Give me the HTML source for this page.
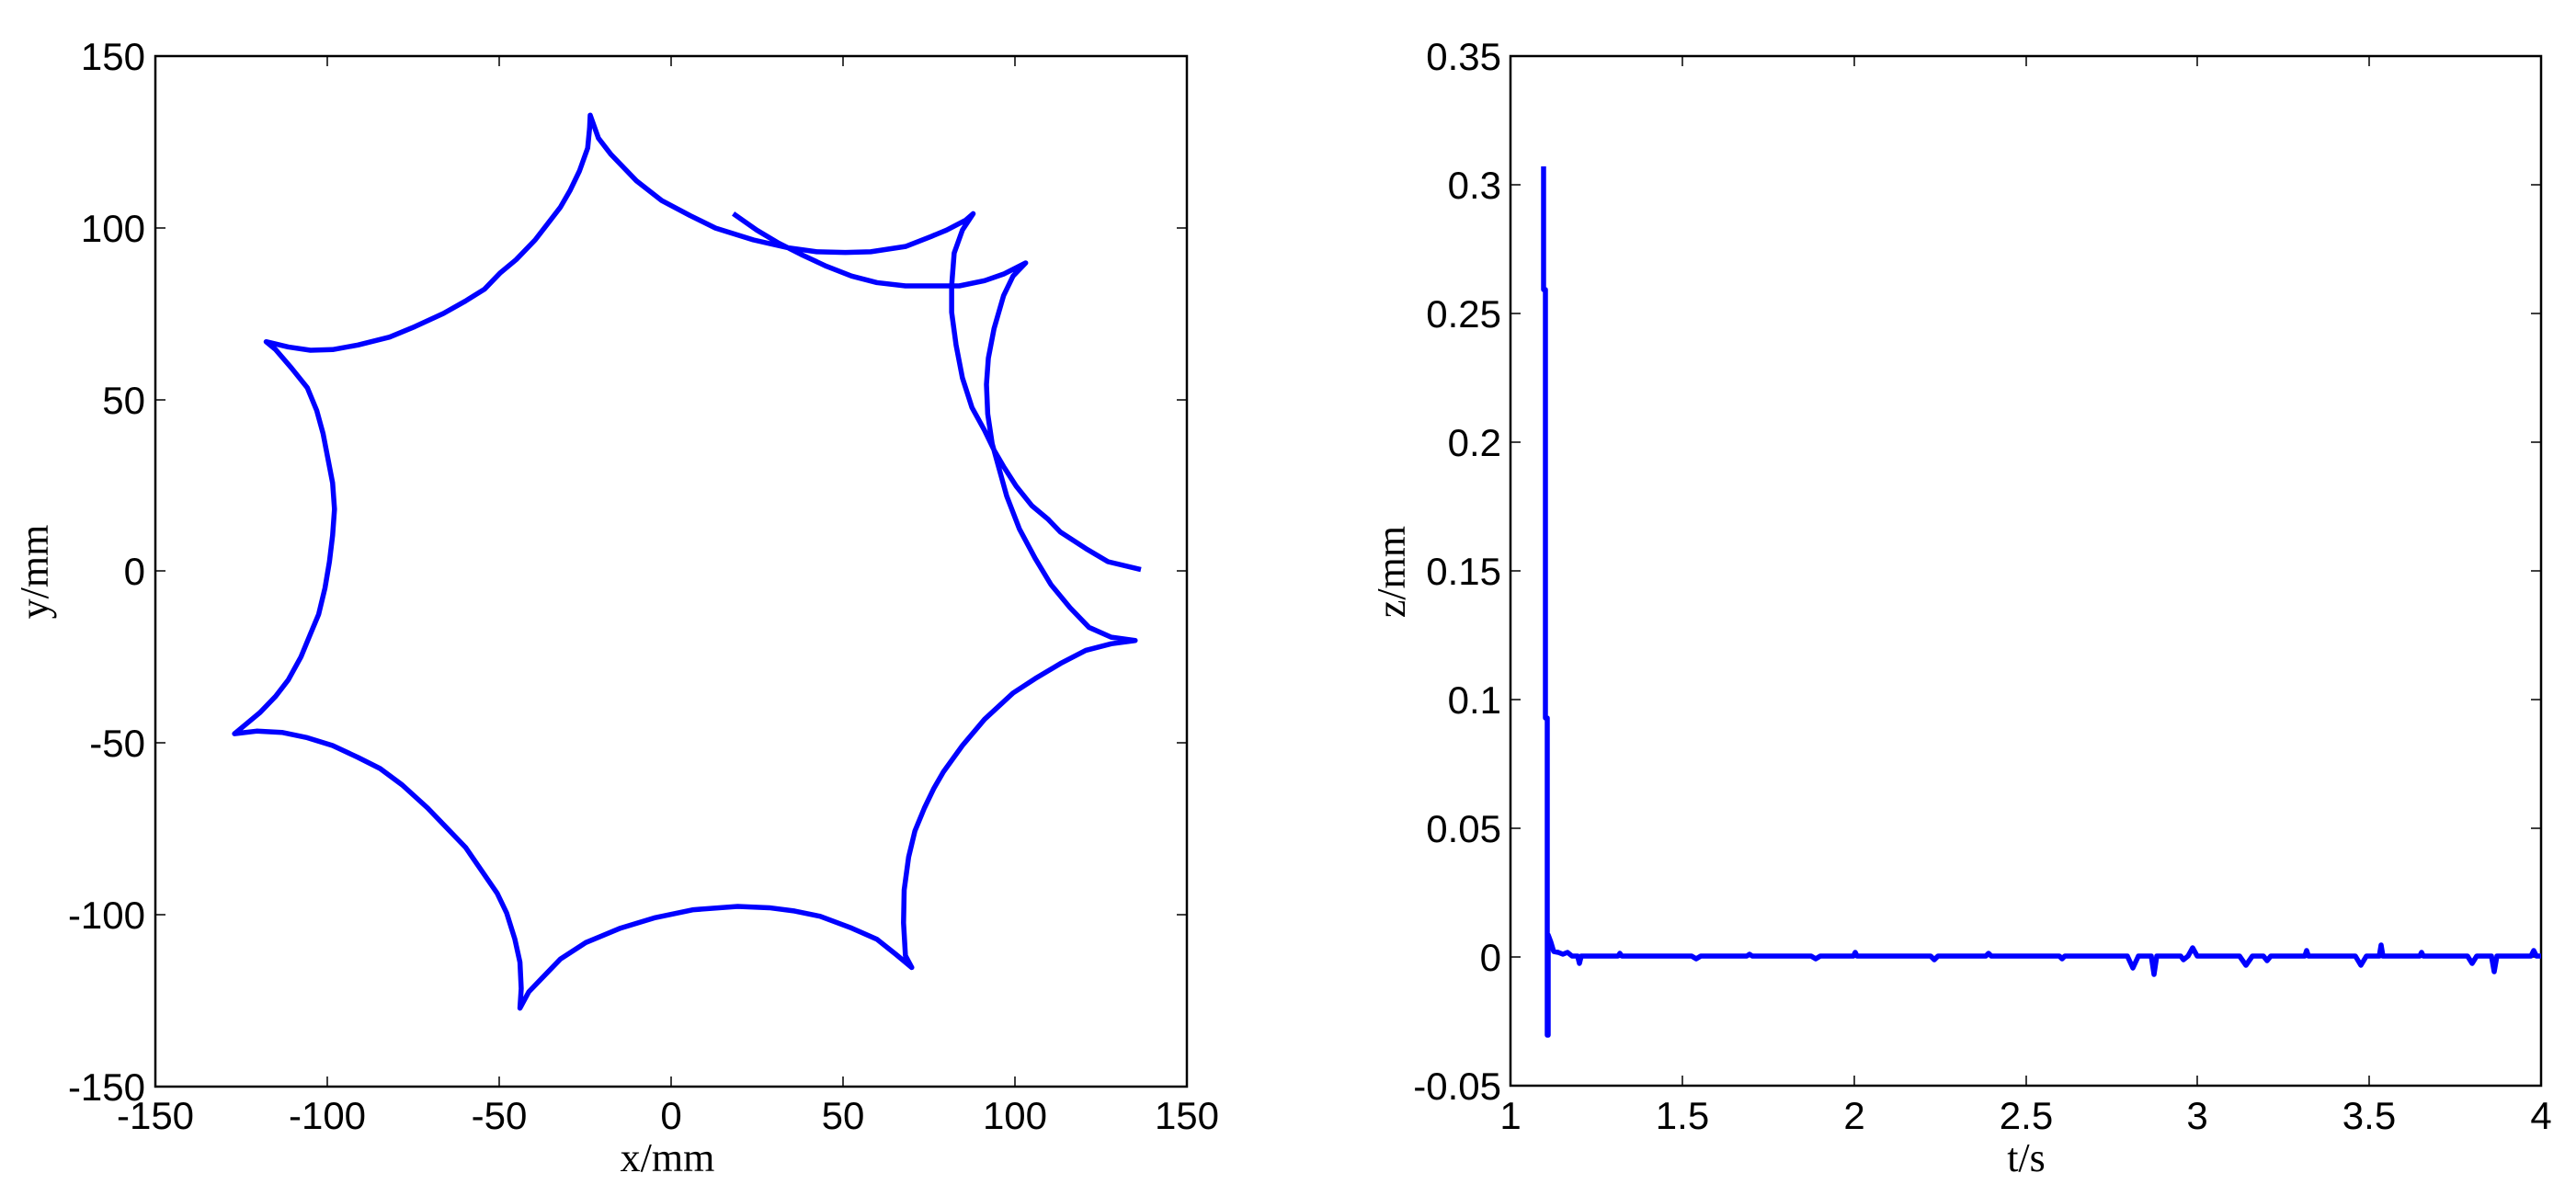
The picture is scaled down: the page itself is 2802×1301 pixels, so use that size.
<!DOCTYPE html>
<html><head><meta charset="utf-8"><style>
html,body{margin:0;padding:0;background:#fff;}
svg{display:block;}
.t{font-family:"Liberation Sans",sans-serif;font-size:42px;fill:#000;}
.l{font-family:"Liberation Serif",serif;font-size:44px;fill:#000;}
</style></head><body>
<svg width="2802" height="1301" viewBox="0 0 2802 1301" xmlns="http://www.w3.org/2000/svg">
<rect width="2802" height="1301" fill="#fff"/>
<!-- LEFT AXES -->
<rect x="169" y="61" width="1122" height="1121" fill="none" stroke="#000" stroke-width="2.5"/>
<g stroke="#000" stroke-width="1.5">
<path d="M356 1182v-11M543 1182v-11M730 1182v-11M917 1182v-11M1104 1182v-11
M356 61v11M543 61v11M730 61v11M917 61v11M1104 61v11
M169 248h11M169 435h11M169 621h11M169 808h11M169 995h11
M1291 248h-11M1291 435h-11M1291 621h-11M1291 808h-11M1291 995h-11"/>
</g>
<g class="t" text-anchor="middle">
<text x="169" y="1228">-150</text><text x="356" y="1228">-100</text><text x="543" y="1228">-50</text>
<text x="730" y="1228">0</text><text x="917" y="1228">50</text><text x="1104" y="1228">100</text><text x="1291" y="1228">150</text>
</g>
<g class="t" text-anchor="end">
<text x="158" y="76">150</text><text x="158" y="263">100</text><text x="158" y="450">50</text>
<text x="158" y="636">0</text><text x="158" y="823">-50</text><text x="158" y="1010">-100</text><text x="158" y="1197">-150</text>
</g>
<text class="l" x="726" y="1274" text-anchor="middle">x/mm</text>
<text class="l" transform="translate(52,622) rotate(-90)" text-anchor="middle">y/mm</text>
<g transform="matrix(0.6885,0,0,0.7143,169,61)">
<path fill="none" stroke="#0000ff" stroke-width="5.5" vector-effect="non-scaling-stroke" stroke-linejoin="round" d="M1557,782 L1505,770 L1470,750 L1430,725 L1410,705 L1385,685 L1360,655 L1340,625 L1325,600 L1310,570 L1290,535 L1275,490 L1265,440 L1258,390 L1258,350 L1262,300 L1275,265 L1292,240 L1280,250 L1250,265 L1225,275 L1185,290 L1130,298 L1090,299 L1045,298 L1000,292 L945,280 L885,262 L845,243 L800,220 L760,190 L720,150 L700,125 L687,90 L686,110 L683,140 L670,175 L655,205 L640,230 L620,255 L600,280 L570,310 L545,330 L520,355 L490,373 L455,392 L410,412 L370,428 L320,440 L280,447 L245,448 L210,443 L175,435 L190,447 L215,475 L240,505 L255,540 L265,575 L272,610 L280,650 L283,690 L280,730 L275,770 L268,810 L258,850 L245,880 L230,915 L210,950 L190,975 L165,1000 L125,1032 L160,1028 L200,1030 L240,1038 L280,1050 L320,1068 L355,1085 L390,1110 L430,1145 L460,1175 L490,1205 L515,1240 L540,1275 L555,1305 L568,1345 L576,1380 L578,1420 L576,1450 L590,1425 L610,1405 L640,1375 L680,1350 L735,1328 L790,1312 L850,1300 L920,1295 L970,1297 L1010,1302 L1050,1310 L1100,1328 L1140,1345 L1170,1368 L1195,1388 L1185,1370 L1182,1320 L1183,1270 L1190,1220 L1200,1180 L1215,1145 L1230,1115 L1245,1090 L1275,1050 L1310,1010 L1355,970 L1390,948 L1430,925 L1470,905 L1510,895 L1548,890 L1510,885 L1475,870 L1445,840 L1415,805 L1390,765 L1365,720 L1345,670 L1332,625 L1322,590 L1315,545 L1313,500 L1316,460 L1325,415 L1340,365 L1355,335 L1375,315 L1340,332 L1310,342 L1270,350 L1235,350 L1185,350 L1140,345 L1100,335 L1060,320 L1020,302 L985,285 L950,265 L913,240"/>
</g>
<!-- RIGHT AXES -->
<rect x="1643" y="61" width="1121" height="1120" fill="none" stroke="#000" stroke-width="2.5"/>
<g stroke="#000" stroke-width="1.5">
<path d="M1830 1181v-11M2017 1181v-11M2204 1181v-11M2390 1181v-11M2577 1181v-11
M1830 61v11M2017 61v11M2204 61v11M2390 61v11M2577 61v11
M1643 201h11M1643 341h11M1643 481h11M1643 621h11M1643 761h11M1643 901h11M1643 1041h11
M2764 201h-11M2764 341h-11M2764 481h-11M2764 621h-11M2764 761h-11M2764 901h-11M2764 1041h-11"/>
</g>
<g class="t" text-anchor="middle">
<text x="1643" y="1228">1</text><text x="1830" y="1228">1.5</text><text x="2017" y="1228">2</text>
<text x="2204" y="1228">2.5</text><text x="2390" y="1228">3</text><text x="2577" y="1228">3.5</text><text x="2764" y="1228">4</text>
</g>
<g class="t" text-anchor="end">
<text x="1633" y="76">0.35</text><text x="1633" y="216">0.3</text><text x="1633" y="356">0.25</text>
<text x="1633" y="496">0.2</text><text x="1633" y="636">0.15</text><text x="1633" y="776">0.1</text>
<text x="1633" y="916">0.05</text><text x="1633" y="1056">0</text><text x="1633" y="1196">-0.05</text>
</g>
<text class="l" x="2204" y="1274" text-anchor="middle">t/s</text>
<text class="l" transform="translate(1528,622) rotate(-90)" text-anchor="middle">z/mm</text>
<path fill="none" stroke="#0000ff" stroke-width="5.5" stroke-linejoin="round" d="M1679,181 L1679,315 L1681,315 L1681,781 L1683,781 L1683,1126 L1684,1126 L1684,1017 L1687,1025 L1690,1035 L1695,1036 L1700,1038 L1705,1036 L1710,1040 L1716,1040 L1718,1048 L1720,1040 L1760,1040 L1762,1037 L1764,1040 L1840,1040 L1845,1043 L1850,1040 L1900,1040 L1903,1038 L1906,1040 L1970,1040 L1975,1043 L1980,1040 L2016,1040 L2018,1036 L2020,1040 L2100,1040 L2104,1044 L2108,1040 L2160,1040 L2163,1037 L2166,1040 L2240,1040 L2243,1043 L2246,1040 L2314,1040 L2320,1053 L2326,1040 L2340,1040 L2343,1060 L2346,1040 L2372,1040 L2375,1044 L2380,1040 L2385,1031 L2390,1040 L2436,1040 L2443,1050 L2450,1040 L2462,1040 L2466,1045 L2470,1040 L2507,1040 L2509,1034 L2511,1040 L2562,1040 L2568,1050 L2574,1040 L2588,1040 L2590,1028 L2592,1040 L2632,1040 L2634,1036 L2636,1040 L2684,1040 L2689,1048 L2694,1040 L2710,1040 L2713,1057 L2716,1040 L2753,1040 L2756,1034 L2759,1040 L2764,1040"/>
</svg>
</body></html>
